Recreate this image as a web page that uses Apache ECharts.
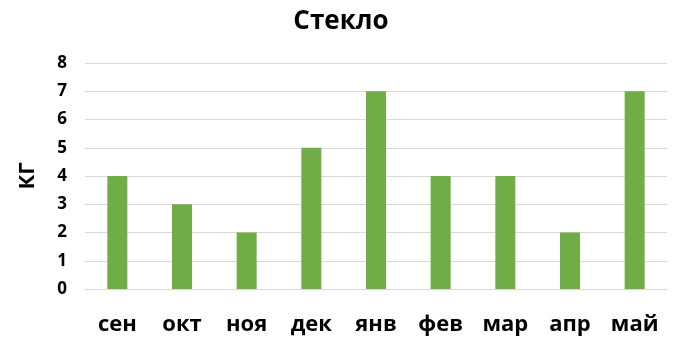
<!DOCTYPE html>
<html><head><meta charset="utf-8">
<script src="https://cdn.jsdelivr.net/npm/echarts@6/dist/echarts.min.js"></script>
<style>html,body{margin:0;padding:0;background:#fff}#c{width:682px;height:348px}</style>
</head><body><div id="c"></div>
<script>
const categories = ['сен','окт','ноя','дек','янв','фев','мар','апр','май'];
const values = [4, 3, 2, 5, 7, 4, 4, 2, 7];
const yTicks = [0, 1, 2, 3, 4, 5, 6, 7, 8];
const titleText = 'Стекло';
const yName = 'КГ';
const font = '"Open Sans", sans-serif';
const chart = echarts.init(document.getElementById('c'));
chart.setOption({
  animation: false,
  title: { text: titleText, left: 'center', top: 4, textStyle: { fontFamily: font, fontSize: 26, fontWeight: 'bold', color: '#000' } },
  grid: { left: 85, right: 15, top: 63, bottom: 59 },
  xAxis: {
    type: 'category', data: categories,
    axisLine: { lineStyle: { color: '#D9D9D9' } }, axisTick: { show: false },
    axisLabel: { interval: 0, fontFamily: font, fontSize: 22, fontWeight: 'bold', color: '#000', margin: 25 }
  },
  yAxis: {
    type: 'value', min: yTicks[0], max: yTicks[yTicks.length-1], interval: 1,
    name: yName, nameLocation: 'middle', nameGap: 46, nameRotate: 90,
    nameTextStyle: { fontFamily: font, fontSize: 22, fontWeight: 'bold', color: '#000' },
    axisLine: { show: false }, axisTick: { show: false },
    splitLine: { lineStyle: { color: '#D9D9D9' } },
    axisLabel: { fontFamily: font, fontSize: 17, fontWeight: 'bold', color: '#000', margin: 18 }
  },
  series: [{ type: 'bar', data: values, barWidth: 20, itemStyle: { color: '#70AD47' } }]
});
</script></body></html>
